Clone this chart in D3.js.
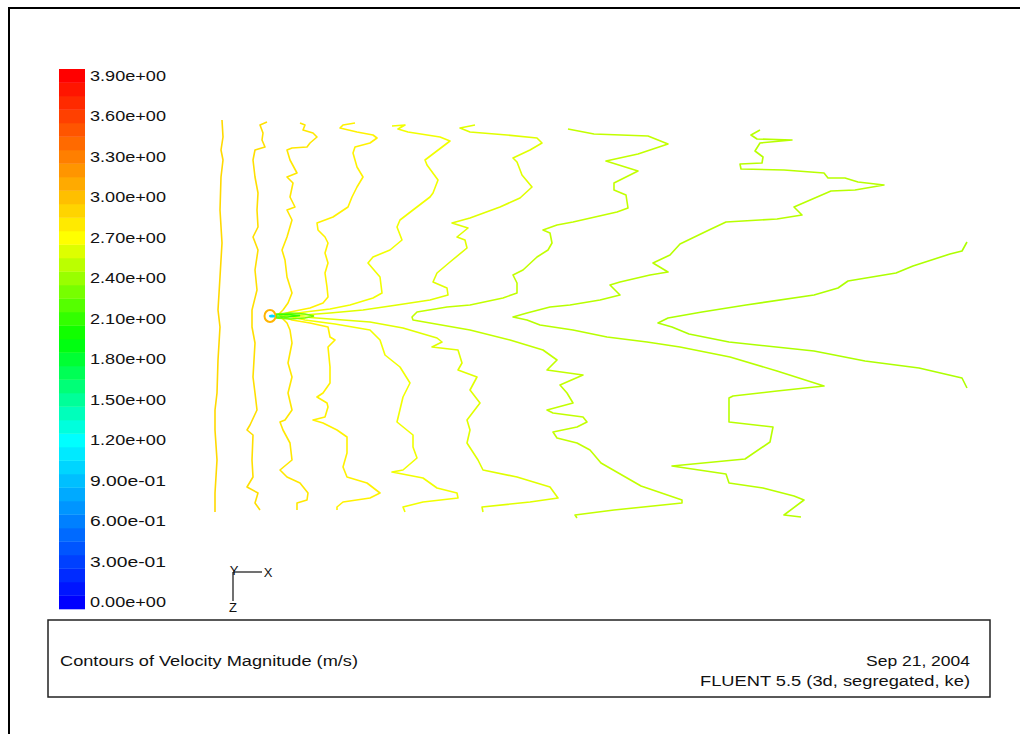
<!DOCTYPE html>
<html>
<head>
<meta charset="utf-8">
<script src="https://cdn.jsdelivr.net/npm/d3@7"></script>
<style>
  html, body { margin: 0; padding: 0; background: #fff; }
  svg { display: block; }
  text { font-family: "Liberation Sans", Arial, sans-serif; fill: #111; }
</style>
</head>
<body>
<svg id="chart" width="1020" height="734"></svg>
<script>
// Colour-bar values (m/s) and their printed labels
const barValues = [0, 0.3, 0.6, 0.9, 1.2, 1.5, 1.8, 2.1, 2.4, 2.7, 3.0, 3.3, 3.6, 3.9];
const barLabels = ["0.00e+00", "3.00e-01", "6.00e-01", "9.00e-01", "1.20e+00", "1.50e+00", "1.80e+00",
                   "2.10e+00", "2.40e+00", "2.70e+00", "3.00e+00", "3.30e+00", "3.60e+00", "3.90e+00"];
const bandCount = 40;            // colour bands, 0.1 m/s each
const bandStep = 0.1;

// Contour polylines, [x, y] in mm measured from the injector (x downstream, y up)
const contourA = [[-48,196],[-47,179],[-49,166],[-47,156],[-49,139],[-50,106],[-48,73],[-50,39],[-52,6],[-50,-11],[-52,-44],[-53,-77],[-55,-94],[-55,-114],[-53,-144],[-55,-177],[-55,-196]];
const contourB = [[-3,194],[-10,191],[-7,183],[-8,176],[-5,169],[-15,166],[-17,156],[-15,139],[-12,123],[-13,106],[-12,89],[-17,79],[-12,66],[-15,46],[-13,26],[-18,6],[-18,-11],[-15,-27],[-17,-61],[-15,-77],[-13,-94],[-20,-109],[-23,-114],[-17,-119],[-18,-144],[-17,-161],[-23,-171],[-12,-177],[-15,-187],[-10,-194]];
const contourC = [[30,193],[35,191],[33,186],[43,183],[47,179],[40,173],[37,169],[22,168],[17,166],[20,156],[27,143],[17,139],[23,133],[20,119],[25,109],[17,106],[22,96],[17,79],[12,66],[15,56],[17,39],[22,23],[18,13],[13,6],[9,2],[13,-3],[17,-7],[20,-14],[22,-27],[18,-47],[22,-61],[18,-77],[22,-94],[15,-104],[10,-106],[13,-114],[20,-127],[22,-144],[10,-154],[17,-161],[30,-167],[38,-177],[37,-184],[27,-187],[27,-194]];
const contourD = [[85,193],[73,191],[70,188],[87,184],[103,181],[107,178],[100,173],[85,169],[83,163],[87,149],[93,139],[87,129],[82,119],[78,109],[63,99],[47,93],[48,86],[55,79],[58,73],[55,63],[58,53],[55,43],[57,29],[58,19],[53,13],[40,8],[20,4],[10,1],[22,-4],[40,-7],[58,-11],[60,-21],[65,-24],[58,-31],[60,-51],[60,-67],[53,-77],[47,-81],[57,-87],[58,-91],[55,-101],[43,-104],[53,-107],[67,-114],[77,-121],[77,-137],[73,-151],[77,-161],[97,-167],[110,-177],[100,-182],[73,-186],[67,-191],[67,-194]];
const contourE = [[122,190],[135,191],[128,187],[138,184],[170,179],[180,175],[155,156],[157,151],[168,136],[163,123],[160,119],[143,106],[130,96],[127,89],[132,76],[120,66],[103,59],[98,53],[110,39],[112,23],[103,18],[80,11],[60,7],[35,4],[14,1],[35,-4],[65,-8],[100,-14],[110,-24],[115,-39],[130,-51],[140,-67],[133,-81],[127,-106],[143,-119],[143,-131],[147,-142],[133,-154],[122,-156],[153,-162],[167,-172],[187,-177],[188,-182],[153,-186],[133,-191],[135,-196]];
const contourF = [[205,191],[190,188],[200,184],[237,181],[267,178],[272,173],[260,166],[243,158],[247,154],[252,141],[262,129],[250,118],[230,109],[200,98],[182,93],[198,88],[187,79],[195,76],[197,68],[180,54],[167,43],[163,34],[177,28],[178,21],[160,16],[127,11],[93,6],[60,3],[20,0],[60,-3],[100,-6],[133,-12],[167,-22],[172,-26],[162,-31],[188,-34],[192,-47],[188,-54],[207,-61],[200,-74],[210,-87],[197,-104],[200,-114],[197,-127],[208,-144],[213,-154],[247,-161],[280,-171],[288,-182],[260,-186],[212,-191],[213,-196]];
const contourG = [[298,187],[324,182],[378,180],[398,172],[368,162],[336,155],[368,145],[344,133],[344,126],[356,121],[358,108],[347,104],[303,94],[287,91],[273,86],[280,83],[282,73],[278,66],[267,59],[253,46],[243,41],[247,33],[247,23],[233,18],[200,11],[177,9],[147,4],[142,-1],[143,-4],[200,-14],[240,-24],[273,-34],[287,-44],[277,-54],[313,-59],[290,-69],[297,-77],[303,-87],[277,-94],[283,-97],[313,-101],[317,-106],[307,-111],[283,-116],[287,-122],[307,-127],[320,-134],[331,-147],[371,-170],[412,-184],[412,-187],[344,-194],[305,-199],[307,-202]];
const contourH = [[490,186],[481,181],[487,177],[522,176],[490,173],[485,165],[493,159],[492,153],[470,152],[471,147],[514,146],[554,143],[558,138],[575,138],[588,134],[614,131],[585,126],[561,125],[524,109],[532,101],[507,97],[456,94],[439,86],[410,72],[400,61],[383,53],[398,44],[380,41],[350,34],[340,31],[350,21],[330,16],[300,11],[280,9],[257,3],[243,-1],[257,-4],[270,-9],[303,-14],[337,-21],[377,-26],[410,-31],[460,-41],[507,-55],[554,-70],[507,-75],[463,-80],[459,-82],[459,-106],[503,-111],[500,-126],[475,-143],[402,-150],[456,-158],[459,-167],[493,-172],[524,-180],[534,-184],[514,-199],[531,-201]];
const contourI = [[697,74],[692,65],[680,62],[643,50],[626,43],[578,35],[568,28],[544,21],[476,11],[432,4],[398,-2],[388,-7],[402,-11],[419,-18],[459,-26],[544,-35],[595,-45],[649,-52],[692,-62],[697,-72]];
const contourLevels = [2.88, 2.85, 2.81, 2.76, 2.66, 2.61, 2.52, 2.49, 2.46];

// Low-speed core just behind the injector
const coreOuter = [[6,2],[20,3],[35,2],[44,0],[35,-2],[20,-3],[6,-2]];
const coreInner = [[6,1],[18,1.5],[30,0.5],[18,-1],[6,-1]];
const coreLevels = [2.3, 2.1];

const svg = d3.select("#chart");

// Frame lines
svg.append("line").attr("x1", 8).attr("y1", 8).attr("x2", 1020).attr("y2", 8)
  .attr("stroke", "#000").attr("stroke-width", 2);
svg.append("line").attr("x1", 9).attr("y1", 8).attr("x2", 9).attr("y2", 734)
  .attr("stroke", "#000").attr("stroke-width", 2);

// Colour map used by the bar and the contour lines
const hue = d3.scaleLinear().domain([0, 1.2, 1.95, 2.7, 3.9]).range([240, 180, 120, 60, 0]);
const colourOf = v => d3.hsl(hue(v), 1, 0.5).formatHex();

// Colour bar
const vScale = d3.scaleLinear().domain([0, 3.9]).range([602.25, 75.75]);
const bandH = vScale(0) - vScale(bandStep);
const bands = d3.range(bandCount).map(k => k * bandStep);
const bar = svg.append("g");
bar.selectAll("rect").data(bands).join("rect")
  .attr("x", 59).attr("width", 26)
  .attr("y", d => vScale(d) - bandH / 2)
  .attr("height", bandH + 0.3)
  .attr("fill", d => colourOf(d));

const barAxis = d3.axisRight(vScale)
  .tickValues(barValues)
  .tickFormat((d, i) => barLabels[i])
  .tickSize(0)
  .tickPadding(5);
const axisG = svg.append("g").attr("transform", "translate(85,0)").call(barAxis);
axisG.select(".domain").remove();
axisG.selectAll("text")
  .attr("font-family", "Liberation Sans, Arial, sans-serif")
  .attr("font-size", 14)
  .attr("fill", "#111")
  .attr("textLength", 76)
  .attr("lengthAdjust", "spacingAndGlyphs");

// Contour plot
const xMM = d3.scaleLinear().domain([-210, 700]).range([60, 970]);
const yMM = d3.scaleLinear().domain([-200, 200]).range([516, 116]);
const path = d3.line().x(d => xMM(d[0])).y(d => yMM(d[1]));

const contours = [contourA, contourB, contourC, contourD, contourE, contourF, contourG, contourH, contourI];
const plot = svg.append("g");
plot.selectAll("path.contour").data(contours).join("path")
  .attr("class", "contour")
  .attr("d", path)
  .attr("fill", "none")
  .attr("stroke", (d, i) => colourOf(contourLevels[i]))
  .attr("stroke-width", 1.6)
  .attr("stroke-linejoin", "round");

// Injector: wake core, ring and stagnation spot
plot.selectAll("path.core").data([coreOuter, coreInner]).join("path")
  .attr("class", "core")
  .attr("d", d => path(d) + "Z")
  .attr("fill", "none")
  .attr("stroke", (d, i) => colourOf(coreLevels[i]))
  .attr("stroke-width", 1.6);
plot.append("ellipse")
  .attr("cx", xMM(0)).attr("cy", yMM(0))
  .attr("rx", 5.5).attr("ry", 6)
  .attr("fill", "none")
  .attr("stroke", colourOf(3.05)).attr("stroke-width", 2);
plot.append("ellipse")
  .attr("cx", xMM(2)).attr("cy", yMM(0))
  .attr("rx", 3).attr("ry", 1.5)
  .attr("fill", colourOf(1.0));

// Axis triad
const triad = svg.append("g").attr("stroke", "#111").attr("stroke-width", 1.2);
triad.append("line").attr("x1", 233).attr("y1", 572).attr("x2", 262).attr("y2", 572);
triad.append("line").attr("x1", 233).attr("y1", 572).attr("x2", 233).attr("y2", 601);
svg.append("text").attr("x", 234).attr("y", 575).attr("text-anchor", "middle").attr("font-size", 13).text("Y");
svg.append("text").attr("x", 268).attr("y", 577).attr("text-anchor", "middle").attr("font-size", 13).text("X");
svg.append("text").attr("x", 233).attr("y", 612).attr("text-anchor", "middle").attr("font-size", 13).text("Z");

// Title block
svg.append("rect").attr("x", 48).attr("y", 620).attr("width", 942).attr("height", 77)
  .attr("fill", "#fff").attr("stroke", "#222").attr("stroke-width", 1.5);
svg.append("text").attr("x", 60).attr("y", 666).attr("font-size", 14)
  .attr("textLength", 298).attr("lengthAdjust", "spacingAndGlyphs")
  .text("Contours of Velocity Magnitude (m/s)");
svg.append("text").attr("x", 970).attr("y", 666).attr("font-size", 14).attr("text-anchor", "end")
  .attr("textLength", 104).attr("lengthAdjust", "spacingAndGlyphs")
  .text("Sep 21, 2004");
svg.append("text").attr("x", 970).attr("y", 686).attr("font-size", 14).attr("text-anchor", "end")
  .attr("textLength", 270).attr("lengthAdjust", "spacingAndGlyphs")
  .text("FLUENT 5.5 (3d, segregated, ke)");
</script>
</body>
</html>
